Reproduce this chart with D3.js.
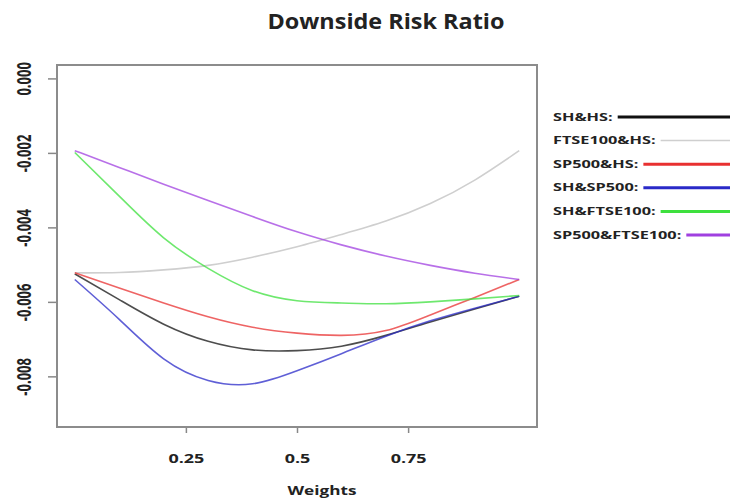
<!DOCTYPE html>
<html>
<head>
<meta charset="utf-8">
<script src="https://cdn.jsdelivr.net/npm/d3@7"></script>
<style>
  body { margin: 0; background: #fff; }
  text { font-family: "Open Sans", "DejaVu Sans", sans-serif; font-weight: bold; fill: #222; }
</style>
</head>
<body>
<svg class="chart" width="730" height="504"></svg>
<script>
// weights on the x axis
const weights = [0, 0.1, 0.2, 0.3, 0.4, 0.5, 0.6, 0.7, 0.8, 0.9, 1.0]

// downside risk ratio
const shHs   = [-0.00525, -0.00594, -0.00660, -0.00706, -0.00729, -0.00731, -0.00719, -0.00690, -0.00654, -0.00619, -0.00585]
const ftseHs = [-0.00522, -0.00521, -0.00514, -0.00502, -0.00480, -0.00452, -0.00419, -0.00383, -0.00336, -0.00273, -0.00194]
const spHs   = [-0.00522, -0.00563, -0.00603, -0.00640, -0.00668, -0.00684, -0.00690, -0.00677, -0.00635, -0.00588, -0.00540]
const shSp   = [-0.00540, -0.00647, -0.00753, -0.00811, -0.00820, -0.00785, -0.00739, -0.00692, -0.00651, -0.00617, -0.00585]
const shFtse = [-0.00199, -0.00316, -0.00428, -0.00510, -0.00570, -0.00597, -0.00603, -0.00605, -0.00600, -0.00592, -0.00583]
const spFtse = [-0.00194, -0.00239, -0.00284, -0.00328, -0.00371, -0.00412, -0.00447, -0.00477, -0.00502, -0.00523, -0.00540]

const seriesNames = ["SH&HS:", "FTSE100&HS:", "SP500&HS:", "SH&SP500:", "SH&FTSE100:", "SP500&FTSE100:"]
const seriesValues = [shHs, ftseHs, spHs, shSp, shFtse, spFtse]
const colors = ["#111111", "#cfcfcf", "#e83030", "#2a2ac8", "#3ee03e", "#a040e0"]

const xTicks = [0.25, 0.5, 0.75]
const yTicks = [0, -0.002, -0.004, -0.006, -0.008]

const box = {left: 57, right: 537, top: 65, bottom: 427}

const svg = d3.select(".chart")

// R style: range padded by 4% on each side
var xScale = d3.scaleLinear()
    .domain([-0.04, 1.04])
    .range([box.left, box.right])

var yScale = d3.scaleLinear()
    .domain([-0.00936, 0.00036])
    .range([box.bottom, box.top])

// the picture is stretched sideways, so text is widened with textLength
function stretch(sel, k) {
    sel.each(function() {
        const w = this.getComputedTextLength()
        d3.select(this).attr("textLength", w * k).attr("lengthAdjust", "spacingAndGlyphs")
    })
}

svg.append("text")
    .text("Downside Risk Ratio")
    .attr("x", 386)
    .attr("y", 29)
    .attr("text-anchor", "middle")
    .attr("textLength", 237)
    .attr("lengthAdjust", "spacingAndGlyphs")
    .style("font-size", "22px")

// x axis
const xAxis = svg.append("g")
    .attr("transform", `translate(0,${box.bottom})`)
    .call(d3.axisBottom(xScale).tickValues(xTicks).tickSize(6).tickSizeOuter(0)
        .tickFormat(d => String(d)))
xAxis.select(".domain").remove()
xAxis.selectAll("line").attr("stroke", "#888").attr("stroke-width", 1.5)
xAxis.selectAll("text")
    .attr("y", 27)
    .style("font-size", "13px")
    .style("font-family", "\"Open Sans\", sans-serif")
    .attr("fill", "#222")
    .call(stretch, 1.38)

// y axis
const yAxis = svg.append("g")
    .attr("transform", `translate(${box.left},0)`)
    .call(d3.axisLeft(yScale).tickValues(yTicks).tickSize(9).tickSizeOuter(0)
        .tickFormat(d => d.toFixed(3)))
yAxis.select(".domain").remove()
yAxis.selectAll("line").attr("stroke", "#888").attr("stroke-width", 1.5)
yAxis.selectAll("text")
    .attr("x", null)
    .attr("text-anchor", "middle")
    .attr("transform", "translate(-33,0) scale(1.5,1) rotate(-90)")
    .attr("dy", "0.35em")
    .style("font-size", "13px")
    .style("font-family", "\"Open Sans\", sans-serif")
    .attr("fill", "#222")

svg.append("rect")
    .attr("x", box.left).attr("y", box.top)
    .attr("width", box.right - box.left).attr("height", box.bottom - box.top)
    .attr("fill", "none")
    .attr("stroke", "#8c8c8c")
    .attr("stroke-width", 2)

svg.append("text")
    .text("Weights")
    .attr("x", 322)
    .attr("y", 495)
    .attr("text-anchor", "middle")
    .attr("textLength", 69)
    .attr("lengthAdjust", "spacingAndGlyphs")
    .style("font-size", "13px")

const line = d3.line()
    .x(d => xScale(d.w))
    .y(d => yScale(d.v))
    .curve(d3.curveNatural)

seriesValues.forEach((vals, i) => {
    const pts = weights.map((w, j) => ({w: w, v: vals[j]}))
    svg.append("path")
        .datum(pts)
        .attr("d", line)
        .attr("fill", "none")
        .attr("stroke", colors[i])
        .attr("stroke-opacity", i === 1 ? 1 : 0.75)
        .attr("stroke-width", 1.6)
})

// legend
const legend = svg.append("g").attr("class", "legend")
seriesNames.forEach((name, i) => {
    const y = 117 + i * 23.6
    const t = legend.append("text")
        .text(name)
        .attr("x", 553)
        .attr("y", y)
        .attr("dy", "0.35em")
        .style("font-size", "10.5px")
        .call(stretch, 1.55)
    const w = +t.attr("textLength")
    legend.append("line")
        .attr("x1", 553 + w + 5).attr("x2", 730)
        .attr("y1", y).attr("y2", y)
        .attr("stroke", colors[i])
        .attr("stroke-width", i === 1 ? 1.5 : 3)
})
</script>
</body>
</html>
